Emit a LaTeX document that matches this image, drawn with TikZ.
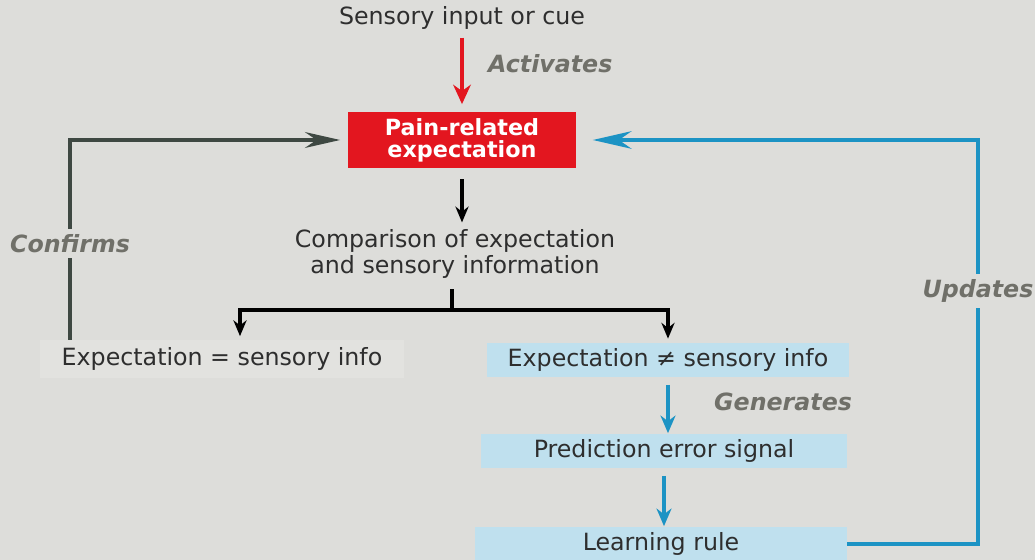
\documentclass[tikz,border=0pt]{standalone}
\usepackage{fontspec}
\setmainfont{DejaVu Sans}
\usepackage{tikz}
\usetikzlibrary{arrows.meta, positioning, calc}
\usepackage{xcolor}
\definecolor{paper}{HTML}{DDDDDA}
\definecolor{paperlt}{HTML}{E2E2DF}
\definecolor{ink}{HTML}{2E2E2E}
\definecolor{lblgray}{HTML}{707069}
\definecolor{painred}{HTML}{E3161F}
\definecolor{boxblue}{HTML}{BFE0EE}
\definecolor{lineblue}{HTML}{1C93C4}
\definecolor{cnfgray}{HTML}{3E4842}

\begin{document}
\begin{tikzpicture}[x=0.02cm, y=-0.02cm,
  txt/.style={font=\fontsize{13.5}{14.5}\selectfont, text=ink, align=center, inner sep=0pt},
  painbox/.style={rectangle, fill=painred, text=white, minimum width=4.58cm,
                  minimum height=1.06cm, align=center,
                  font=\fontsize{12.7}{12.5}\selectfont\bfseries},
  bluebox/.style={txt, fill=boxblue, minimum width=7.32cm, minimum height=0.7cm},
  eqbox/.style={txt, fill=paperlt, minimum width=7.3cm, minimum height=0.76cm},
  lbl/.style={font=\fontsize{13.5}{14.5}\selectfont\bfseries\itshape, text=lblgray, inner sep=3pt},
  redarrow/.style={-{Stealth[length=11pt, width=10pt]}, painred, line width=2.2pt},
  blkarrow/.style={-{Stealth[length=9pt, width=7.5pt]}, black, line width=2pt},
  bluearrow/.style={-{Stealth[length=10pt, width=8.5pt]}, lineblue, line width=2.2pt},
  updline/.style={-{Stealth[length=22pt, width=10pt]}, lineblue, line width=2pt},
  cnfline/.style={-{Stealth[length=20pt, width=9pt]}, cnfgray, line width=2pt},
]
  % Background
  \fill[paper] (0,0) rectangle (1035,560);
  \useasboundingbox (0,0) rectangle (1035,560);

  % Top part
  \node[txt]     (cue)  at (462,18)  {Sensory input or cue};
  \node[painbox] (pain) at (462,140) {Pain-related\\expectation};
  \node[txt]     (cmp)  at (455,254) {Comparison of expectation\\and sensory information};

  % Outcomes
  \node[eqbox]   (eq)   at (222,359) {Expectation = sensory info};
  \node[bluebox, minimum width=7.26cm] (neq) at (668,360) {Expectation ≠ sensory info};
  \node[bluebox] (pes)  at (664,451) {Prediction error signal};
  \node[bluebox, minimum width=7.44cm] (lr) at (661,544) {Learning rule};

  % Helper points
  \coordinate (split) at (452,310);
  \coordinate (crail) at (70,250);
  \coordinate (urail) at (978,300);

  % Arrows
  \draw[redarrow, shorten <=4.5pt, shorten >=4.5pt] (cue.south) --
    node[lbl, anchor=west, xshift=0.38cm, yshift=0.15cm]{Activates} (pain.north);
  \draw[blkarrow, shorten <=6.5pt, shorten >=4pt] (pain.south) -- (pain.south |- cmp.north);
  \draw[black, line width=2.6pt, shorten <=6pt] (split |- cmp.south) -- (split);
  \draw[blkarrow, shorten >=2pt] (split) -| ([xshift=0.36cm]eq.north);
  \draw[blkarrow, shorten >=2pt] (split) -| (neq.north);
  \draw[bluearrow, shorten <=4pt] (neq.south) --
    node[lbl, anchor=west, xshift=0.78cm, yshift=0.08cm]{Generates} (neq.south |- pes.north);
  \draw[bluearrow, shorten <=4pt] (pes.south) -- (pes.south |- lr.north);

  % Feedback loops
  \draw[updline, shorten >=0.32cm] (lr.east) -|
    node[pos=0.813, lbl, fill=paper]{Updates} (pain.east -| urail) -- (pain.east);
  \draw[cnfline, shorten >=0.14cm] (eq.north -| crail) --
    node[pos=0.48, lbl, fill=paper]{Confirms} (pain.west -| crail) -- (pain.west);
\end{tikzpicture}
\end{document}
